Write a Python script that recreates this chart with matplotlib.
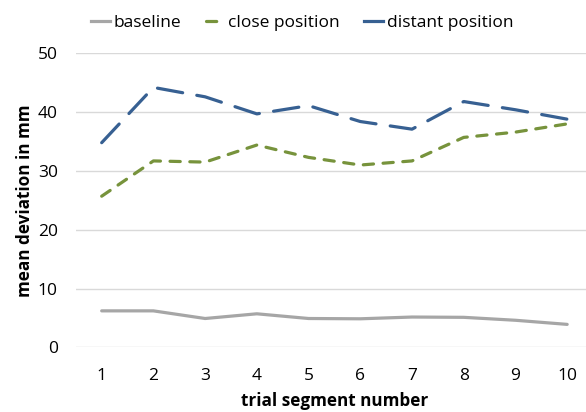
import numpy as np
import matplotlib
matplotlib.use('Agg')
import matplotlib.pyplot as plt
from matplotlib.lines import Line2D

plt.rcParams['font.family'] = ['Open Sans', 'DejaVu Sans']

segments = [1, 2, 3, 4, 5, 6, 7, 8, 9, 10]
baseline = [6.2, 6.2, 4.9, 5.7, 4.9, 4.85, 5.15, 5.1, 4.6, 3.9]
close_pos = [25.7, 31.7, 31.5, 34.4, 32.3, 31.0, 31.7, 35.7, 36.6, 38.0]
distant_pos = [34.8, 44.2, 42.6, 39.7, 41.1, 38.4, 37.1, 41.8, 40.4, 38.8]

c_base = '#A6A6A6'
c_close = '#77933C'
c_dist = '#376092'

fig = plt.figure(figsize=(5.86, 4.12), dpi=100)
ax = fig.add_axes([0.1294, 0.157, 0.8826, 0.7136])

lw = 2.3
ax.plot(segments, baseline, color=c_base, lw=lw, solid_capstyle='round')
ax.plot(segments, close_pos, color=c_close, lw=lw, dashes=(3.2, 3.0), dash_capstyle='round')
ax.plot(segments, distant_pos, color=c_dist, lw=lw, dashes=(8, 4.5), dash_capstyle='round')

ax.set_xlim(0.5, 10.5)
ax.set_ylim(0, 50)
ax.set_xticks(segments)
ax.set_yticks([0, 10, 20, 30, 40, 50])
ax.grid(axis='y', color='#D9D9D9', lw=1)
ax.set_axisbelow(True)
for s in ax.spines.values():
    s.set_visible(False)
ax.tick_params(axis='both', length=0, labelsize=12.5, colors='#000000')
ax.tick_params(axis='x', pad=15)
ax.tick_params(axis='y', pad=13)

ax.set_xlabel('trial segment number', fontsize=12.3, fontweight='bold', labelpad=6)
ax.set_ylabel('mean deviation in mm', fontsize=12.3, fontweight='bold', labelpad=3)

handles = [Line2D([], [], color=c_base, lw=lw),
           Line2D([], [], color=c_close, lw=lw, dashes=(3.2, 3.0), dash_capstyle='round'),
           Line2D([], [], color=c_dist, lw=lw)]
fig.legend(handles, ['baseline', 'close position', 'distant position'],
           loc='center', bbox_to_anchor=(0.516, 0.945), ncol=3, frameon=False,
           fontsize=12.5, handlelength=1.1, handletextpad=0.2, columnspacing=1.4)

fig.savefig('out.png', dpi=100)
